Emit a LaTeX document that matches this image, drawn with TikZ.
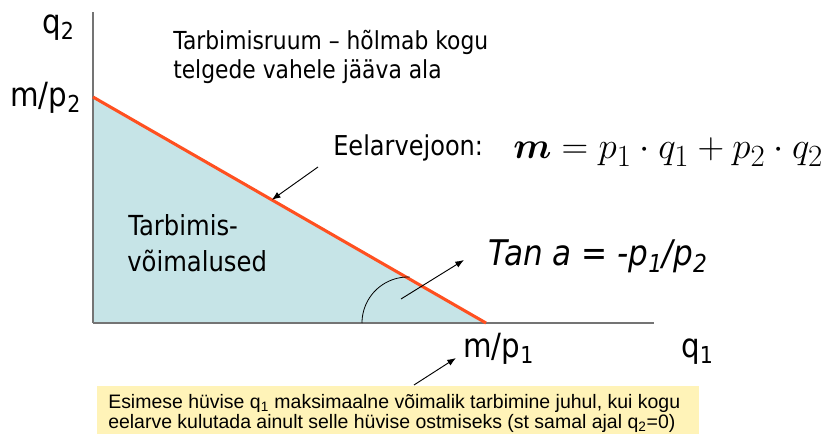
\documentclass[tikz,border=0pt]{standalone}
\usepackage{graphicx}
\usepackage{fontspec}
\usepackage{bm}
\usetikzlibrary{arrows.meta,calc}
\newfontfamily\tah[FakeStretch=0.88,ItalicFont={DejaVu Sans Oblique}]{DejaVu Sans}
\newfontfamily\ari{Liberation Sans}
\definecolor{fillblue}{HTML}{C6E4E7}
\definecolor{budget}{HTML}{FF5020}
\definecolor{axisgray}{HTML}{747474}
\definecolor{boxyellow}{HTML}{FFF3B8}
\tikzset{
  lbl/.style={inner sep=0pt, anchor=base west},
  axislbl/.style={lbl, font=\tah\fontsize{25}{28}\selectfont},
  titletxt/.style={lbl, font=\tah\fontsize{18.6}{22}\selectfont},
  areatxt/.style={lbl, font=\tah\fontsize{20.7}{24}\selectfont},
  boxtxt/.style={lbl, font=\ari\fontsize{14.6}{16}\selectfont},
  pointer/.style={draw=black, line width=0.7pt, -{Latex[length=6.5pt,width=5pt]}},
}
\begin{document}
\begin{tikzpicture}[x=0.75pt,y=-0.75pt]
\useasboundingbox (0,0) rectangle (826,434);
% key points
\coordinate (O) at (93,323);
\coordinate (A) at (93,97);
\coordinate (B) at (486,323);
\coordinate (ytop) at (93,12);
\coordinate (xend) at (654,323);
% feasible set
\fill[fillblue] (O) -- (A) -- (B) -- cycle;
\draw[axisgray, line width=1.1pt] (O) -- (ytop);
\draw[axisgray, line width=1.6pt] (O) -- (xend);
\draw[budget, line width=2.3pt] (A) -- (B);
% angle arc
\coordinate (arcstart) at (362,323);
\draw[black, line width=0.6pt] (arcstart) arc[start angle=180, end angle=88, radius=34.5pt];
% labels
\node[axislbl] (q2) at (42,34) {q\textsubscript{2}};
\node[axislbl] (mp2) at (10,107) {m/p\textsubscript{2}};
\node[axislbl] (mp1) at (463,358) {m/p\textsubscript{1}};
\node[axislbl] (q1) at (681,358) {q\textsubscript{1}};
\node[titletxt] (t1) at (173,50) {Tarbimisruum – hõlmab kogu};
\node[titletxt] (t2) at (173,79) {telgede vahele jääva ala};
\node[areatxt] (a1) at (128,236) {Tarbimis-};
\node[areatxt] (a2) at (127,272) {võimalused};
\node[lbl, font=\tah\fontsize{20.5}{24}\selectfont] (eel) at (333,156) {Eelarvejoon:};
\node[lbl, font=\fontsize{24.88}{30}\selectfont] (eq) at (513,159) {\scalebox{1.115}{$\bm{m} = p_1 \cdot q_1 + p_2 \cdot q_2$}};
\node[lbl, font=\tah\itshape\fontsize{26.5}{30}\selectfont] (tan) at (488,266) {Tan a = -p\textsubscript{1}/p\textsubscript{2}};
% yellow box
\node[fill=boxyellow, inner sep=0pt, minimum width=451pt, minimum height=40pt, anchor=north west] (box) at (97,386) {};
\node[boxtxt] (b1) at (108,409) {Esimese hüvise q\textsubscript{1} maksimaalne võimalik tarbimine juhul, kui kogu};
\node[boxtxt] (b2) at (108,429) {eelarve kulutada ainult selle hüvise ostmiseks (st samal ajal q\textsubscript{2}=0)};
% pointers
\coordinate (eeltail) at (318,167);
\coordinate (bl) at ($(A)!0.455!(B)$);
\draw[pointer] (eeltail) -- (bl);
\coordinate (tantail) at (401,299);
\coordinate (tanhead) at (464,260);
\draw[pointer] (tantail) -- (tanhead);
\coordinate (boxtail) at (414,385);
\coordinate (mphead) at (456,358);
\draw[pointer] (boxtail) -- (mphead);
\end{tikzpicture}
\end{document}
